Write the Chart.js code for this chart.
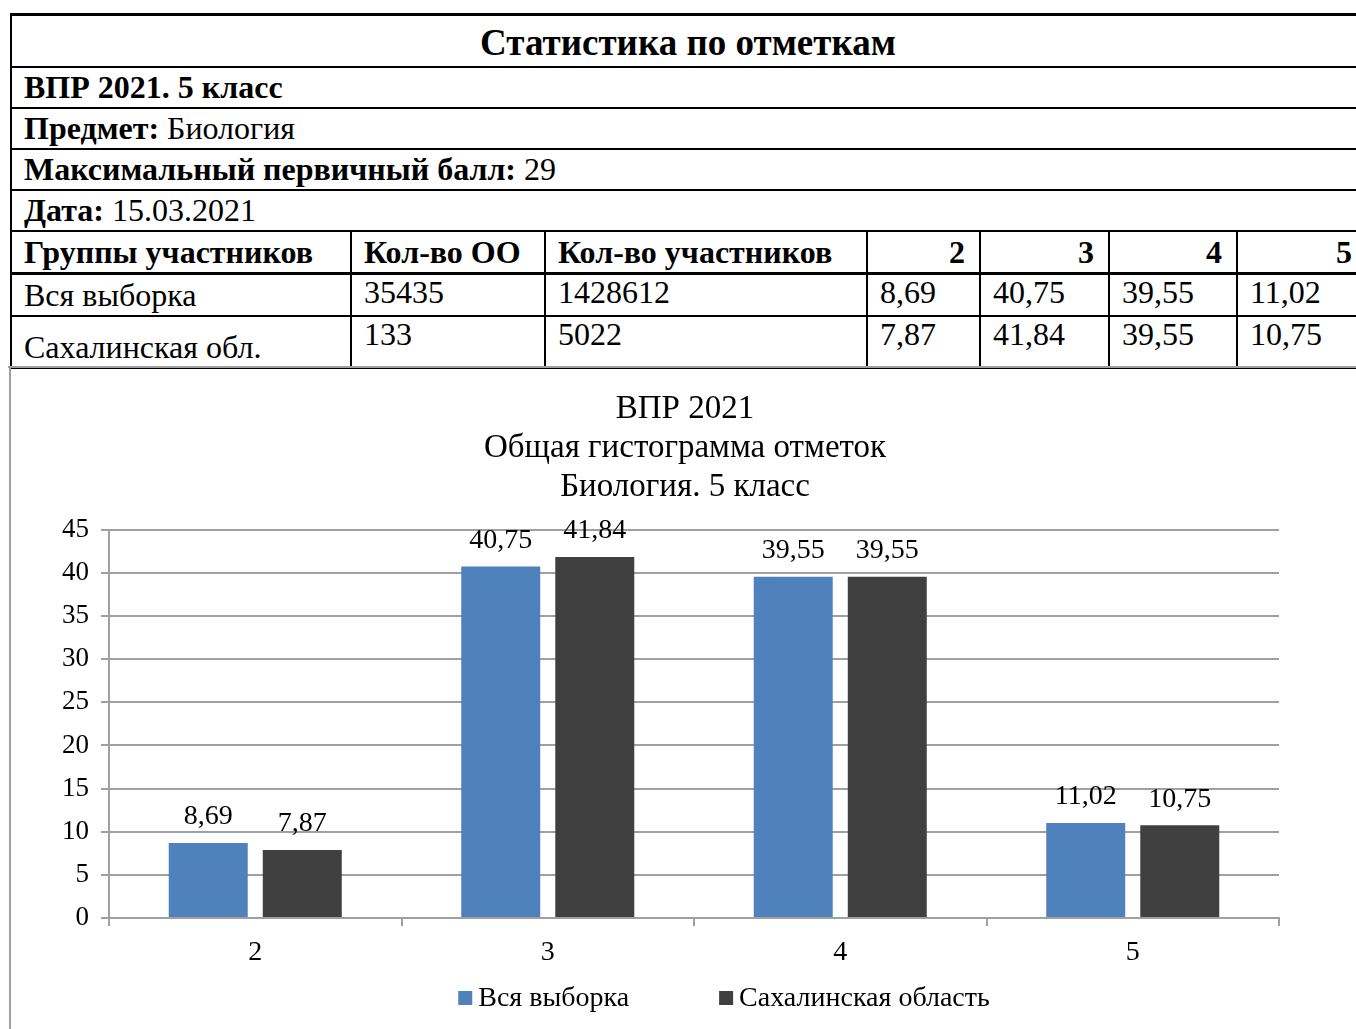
<!DOCTYPE html>
<html><head><meta charset="utf-8">
<script src="https://cdn.jsdelivr.net/npm/chart.js@4"></script>
<style>
html,body{margin:0;padding:0;background:#fff;overflow:hidden;width:1356px;height:1029px;}
body{position:relative;font-family:"Liberation Serif","Times New Roman",serif;color:#000;}
table{position:absolute;left:10px;top:13px;width:1356px;border-collapse:collapse;table-layout:fixed;}
td{border:2px solid #000;padding:0 14px 0 12px;font-size:32px;line-height:1;white-space:nowrap;overflow:hidden;box-sizing:border-box;}
#leftLine{position:absolute;left:9px;top:367px;width:2px;height:662px;background:#a0a0a0;}
#frameTop{position:absolute;left:8px;top:366px;width:1348px;height:2px;background:#a0a0a0;}
#c{position:absolute;left:11px;top:367px;}
</style></head>
<body>
<table id="t">
<colgroup><col style="width:340px"><col style="width:194px"><col style="width:322px"><col style="width:113px"><col style="width:129px"><col style="width:128px"><col style="width:130px"></colgroup>
<tr style="height:52px"><td colspan="7" style="border-top:3px solid #000;text-align:center;font-weight:bold;font-size:37px;padding-top:4px;">Статистика по отметкам</td></tr>
<tr style="height:41px"><td colspan="7"><b>ВПР 2021. 5 класс</b></td></tr>
<tr style="height:41px"><td colspan="7"><b>Предмет:</b> Биология</td></tr>
<tr style="height:41px"><td colspan="7"><b>Максимальный первичный балл:</b> 29</td></tr>
<tr style="height:41px"><td colspan="7"><b>Дата:</b> 15.03.2021</td></tr>
<tr id="hdr" style="height:43px"></tr>
<tr id="r1" style="height:42px"></tr>
<tr id="r2" style="height:52px"></tr>
</table>
<div id="frameTop"></div>
<div id="leftLine"></div>
<canvas id="c" width="1348" height="662"></canvas>
<script>
const categories = ["2", "3", "4", "5"];
const seriesNames = ["Вся выборка", "Сахалинская область"];
const allSample = [8.69, 40.75, 39.55, 11.02];
const sakhalin = [7.87, 41.84, 39.55, 10.75];
const yTicks = [0, 5, 10, 15, 20, 25, 30, 35, 40, 45];
const tableHeader = ["Группы участников", "Кол-во ОО", "Кол-во участников", "2", "3", "4", "5"];
const tableRow1 = ["Вся выборка", "35435", "1428612", "8,69", "40,75", "39,55", "11,02"];
const tableRow2 = ["Сахалинская обл.", "133", "5022", "7,87", "41,84", "39,55", "10,75"];
const titleLines = ["ВПР 2021", "Общая гистограмма отметок", "Биология. 5 класс"];

function fillRow(id, cells, header){
  const tr = document.getElementById(id);
  cells.forEach((txt, i) => {
    const td = document.createElement('td');
    td.textContent = txt;
    if (header){ td.style.fontWeight='bold'; td.style.borderBottom='3px solid #000'; if(i>=3) td.style.textAlign='right'; td.style.verticalAlign='bottom'; td.style.paddingBottom='4px'; }
    else if (i===0){ td.style.verticalAlign='bottom'; td.style.paddingBottom='4px'; }
    else { td.style.verticalAlign='top'; td.style.paddingTop='1px'; }
    tr.appendChild(td);
  });
}
fillRow('hdr', tableHeader, true);
fillRow('r1', tableRow1, false);
fillRow('r2', tableRow2, false);

const FONT = "'Liberation Serif', 'Times New Roman', serif";
const colors = ["#4F81BD", "#404040"];
const fmt = v => v.toFixed(2).replace('.', ',');

const labelPlugin = {
  id: 'barLabels',
  afterDatasetsDraw(chart){
    const ctx = chart.ctx;
    ctx.save();
    ctx.font = "28px " + FONT;
    ctx.fillStyle = "#000";
    ctx.textAlign = "center";
    ctx.textBaseline = "middle";
    chart.data.datasets.forEach((ds, di) => {
      chart.getDatasetMeta(di).data.forEach((bar, i) => {
        ctx.fillText(fmt(ds.data[i]), bar.x, bar.y - 26);
      });
    });
    ctx.restore();
  }
};

const legendPlugin = {
  id: 'customLegend',
  afterDraw(chart){
    const ctx = chart.ctx;
    ctx.save();
    ctx.font = "28px " + FONT;
    ctx.textBaseline = "middle";
    ctx.textAlign = "left";
    const y = chart.chartArea.bottom + 80;
    const box = 14, gapText = 6, gapItems = 90;
    const widths = chart.data.datasets.map(ds => box + gapText + ctx.measureText(ds.label).width);
    const total = widths.reduce((a,b)=>a+b,0) + gapItems*(widths.length-1);
    let x = (chart.chartArea.left + chart.chartArea.right)/2 + 30 - total/2;
    chart.data.datasets.forEach((ds, i) => {
      ctx.fillStyle = ds.backgroundColor;
      ctx.fillRect(x, y - box/2, box, box);
      ctx.fillStyle = "#000";
      ctx.fillText(ds.label, x + box + gapText, y + 1);
      x += widths[i] + gapItems;
    });
    ctx.restore();
  }
};

new Chart(document.getElementById('c'), {
  type: 'bar',
  data: {
    labels: categories,
    datasets: [
      {label: seriesNames[0], data: allSample, backgroundColor: colors[0]},
      {label: seriesNames[1], data: sakhalin, backgroundColor: colors[1]}
    ]
  },
  options: {
    responsive: false,
    animation: false,
    devicePixelRatio: 1,
    categoryPercentage: 0.643,
    barPercentage: 0.84,
    layout: {padding: 0},
    plugins: {
      legend: {display: false},
      tooltip: {enabled: false},
      title: {
        display: true,
        text: titleLines,
        color: "#000",
        font: {family: FONT, size: 33, weight: 'normal', lineHeight: 1.18},
        padding: {top: 23, bottom: 23}
      }
    },
    scales: {
      x: {
        grid: {display: true, drawOnChartArea: false, drawTicks: true, tickLength: 8, color: '#a0a0a0', lineWidth: 2, offset: true},
        border: {display: true, color: '#a0a0a0', width: 2},
        ticks: {color: '#000', font: {family: FONT, size: 28}, padding: 10},
        afterFit(s){ s.height = 111; }
      },
      y: {
        min: 0, max: 45,
        afterBuildTicks(s){ s.ticks = yTicks.map(v => ({value: v})); },
        grid: {color: '#a0a0a0', lineWidth: 2, tickLength: 8, drawTicks: true},
        border: {display: true, color: '#a0a0a0', width: 2},
        ticks: {color: '#000', font: {family: FONT, size: 27}, padding: 12},
        afterFit(s){ s.width = 98; }
      },
      yRightSpace: {
        type: 'linear', position: 'right', min: 0, max: 45,
        grid: {display: false, drawTicks: false},
        border: {display: false},
        ticks: {display: false},
        afterFit(s){ s.width = 80; }
      }
    }
  },
  plugins: [labelPlugin, legendPlugin]
});
</script>
</body></html>
